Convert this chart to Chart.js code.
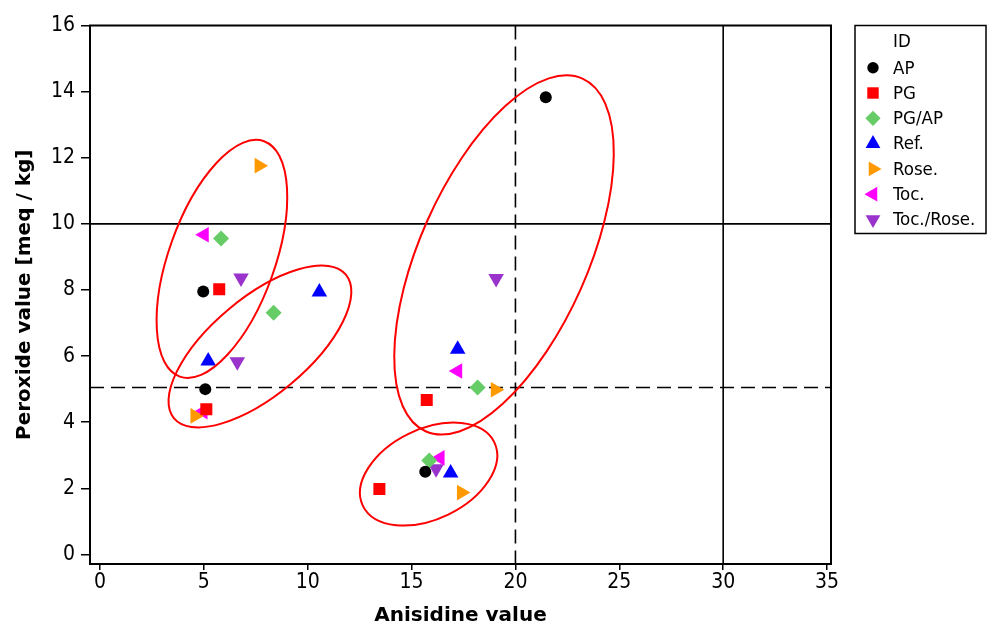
<!DOCTYPE html>
<html>
<head>
<meta charset="utf-8">
<script src="https://cdn.jsdelivr.net/npm/chart.js@4.4.1/dist/chart.umd.min.js"></script>
<style>
  html, body { margin: 0; padding: 0; background: #fff; }
  #wrap { width: 992px; height: 628px; }
</style>
</head>
<body>
<div id="wrap"><canvas id="chart"></canvas></div>
<script>
// series names (legend order)
const seriesNames = ['AP', 'PG', 'PG/AP', 'Ref.', 'Rose.', 'Toc.', 'Toc./Rose.'];

// anisidine value (x) and peroxide value (y) per series
const apX = [4.97, 5.07, 15.66, 21.46];
const apY = [7.95, 5.00, 2.50, 13.83];
const pgX = [5.74, 5.12, 13.45, 15.73];
const pgY = [8.02, 4.39, 1.98, 4.67];
const pgApX = [5.83, 8.36, 15.85, 18.18];
const pgApY = [9.56, 7.31, 2.84, 5.05];
const refX = [5.21, 10.56, 17.22, 16.88];
const refY = [5.85, 7.94, 6.21, 2.46];
const roseX = [7.66, 4.57, 17.40, 19.03];
const roseY = [11.76, 4.19, 1.87, 4.98];
const tocX = [5.02, 4.96, 17.22, 16.37];
const tocY = [9.67, 4.32, 5.55, 2.92];
const tocRoseX = [6.79, 6.61, 19.07, 16.18];
const tocRoseY = [8.36, 5.83, 8.35, 2.59];

// tick labels
const xTicks = [0, 5, 10, 15, 20, 25, 30, 35];
const yTicks = [0, 2, 4, 6, 8, 10, 12, 14, 16];

// reference lines
const hLines = [10, 5.05];
const vLines = [30, 20];

// group ellipses: centre in data units
const ellipseX = [5.87, 7.70, 19.45, 15.82];
const ellipseY = [8.94, 6.29, 9.06, 2.43];

const xs = [apX, pgX, pgApX, refX, roseX, tocX, tocRoseX];
const ys = [apY, pgY, pgApY, refY, roseY, tocY, tocRoseY];

// marker styles
const styles = [
  { color: '#000000', pointStyle: 'circle', rotation: 0, radius: 6 },
  { color: '#ff0000', pointStyle: 'rect', rotation: 0, radius: 8.5 },
  { color: '#66cc66', pointStyle: 'rectRot', rotation: 0, radius: 8 },
  { color: '#0000ff', pointStyle: 'triangle', rotation: 0, radius: 9 },
  { color: '#ff9900', pointStyle: 'triangle', rotation: 90, radius: 9 },
  { color: '#ff00ff', pointStyle: 'triangle', rotation: 270, radius: 9 },
  { color: '#9933cc', pointStyle: 'triangle', rotation: 180, radius: 9 }
];
// ellipse shape in pixels: semi axes and tilt (deg, clockwise from vertical)
const ellipseShape = [
  { a: 125, b: 53, tilt: 19.7 },
  { a: 112, b: 48.6, tilt: 50.1 },
  { a: 193, b: 84, tilt: 24 },
  { a: 73, b: 45, tilt: 64.2 }
];

const datasets = seriesNames.map((name, i) => ({
  label: name,
  data: xs[i].map((v, j) => ({ x: v, y: ys[i][j] })),
  backgroundColor: styles[i].color,
  borderColor: styles[i].color,
  borderWidth: 0,
  pointStyle: styles[i].pointStyle,
  rotation: styles[i].rotation,
  pointRadius: styles[i].radius,
  pointHoverRadius: styles[i].radius
}));

const FONT = '"DejaVu Sans Condensed", "DejaVu Sans", sans-serif';
const TITLE_FONT = '"DejaVu Sans", sans-serif';

const extrasPlugin = {
  id: 'extras',
  beforeDatasetsDraw(chart) {
    const { ctx, chartArea: a, scales: { x, y } } = chart;
    ctx.save();
    ctx.strokeStyle = '#000';
    ctx.lineWidth = 1.6;
    hLines.forEach((v, i) => {
      ctx.setLineDash(i === 1 ? [14, 7] : []);
      const py = y.getPixelForValue(v);
      ctx.beginPath(); ctx.moveTo(a.left, py); ctx.lineTo(a.right, py); ctx.stroke();
    });
    vLines.forEach((v, i) => {
      ctx.setLineDash(i === 1 ? [14, 7] : []);
      const px = x.getPixelForValue(v);
      ctx.beginPath(); ctx.moveTo(px, a.top); ctx.lineTo(px, a.bottom); ctx.stroke();
    });
    ctx.restore();
  },
  afterDatasetsDraw(chart) {
    const { ctx, scales: { x, y } } = chart;
    ctx.save();
    ctx.strokeStyle = '#ff0000';
    ctx.lineWidth = 2;
    ellipseX.forEach((ex, i) => {
      const s = ellipseShape[i];
      ctx.beginPath();
      ctx.ellipse(x.getPixelForValue(ex), y.getPixelForValue(ellipseY[i]), s.b, s.a, s.tilt * Math.PI / 180, 0, Math.PI * 2);
      ctx.stroke();
    });
    ctx.restore();
  },
  afterDraw(chart) {
    const { ctx, chartArea: a } = chart;
    ctx.save();
    // plot frame
    ctx.strokeStyle = '#000';
    ctx.lineWidth = 2;
    ctx.strokeRect(a.left, a.top, a.right - a.left, a.bottom - a.top);

    // legend box
    const lx = 855, ly = a.top, lw = 131, lh = 208;
    ctx.lineWidth = 1.5;
    ctx.strokeRect(lx, ly, lw, lh);
    ctx.font = '18.5px ' + FONT;
    ctx.fillStyle = '#000';
    ctx.textBaseline = 'middle';
    ctx.fillText('ID', 893, 42);
    seriesNames.forEach((name, i) => {
      const rowY = 67.7 + i * 25.3;
      const st = styles[i];
      ctx.fillStyle = st.color;
      Chart.helpers.drawPoint(ctx, {
        pointStyle: st.pointStyle, rotation: st.rotation,
        radius: st.radius * 0.95, borderWidth: 0
      }, 873, rowY);
      ctx.fillStyle = '#000';
      ctx.fillText(name, 893, rowY + 1);
    });
    ctx.restore();
  }
};

new Chart(document.getElementById('chart'), {
  type: 'scatter',
  data: { datasets },
  options: {
    responsive: true,
    maintainAspectRatio: false,
    animation: false,
    layout: { padding: { top: 25.5, right: 161, left: 0, bottom: 0 } },
    plugins: { legend: { display: false }, tooltip: { enabled: false } },
    scales: {
      x: {
        type: 'linear',
        min: -0.48,
        max: 35.19,
        afterFit: (s) => { s.height = 64; },
        afterBuildTicks: (s) => { s.ticks = xTicks.map(v => ({ value: v })); },
        grid: { drawOnChartArea: false, color: '#000', lineWidth: 1.5, tickLength: 6 },
        border: { color: '#000', width: 2 },
        ticks: { color: '#000', font: { family: FONT, size: 21 }, padding: 0, maxRotation: 0 },
        title: {
          display: true, text: 'Anisidine value', color: '#000',
          font: { family: TITLE_FONT, size: 20, weight: 'bold' }, padding: 0
        }
      },
      y: {
        type: 'linear',
        min: -0.29,
        max: 16,
        afterFit: (s) => { s.width = 90; },
        afterBuildTicks: (s) => { s.ticks = yTicks.map(v => ({ value: v })); },
        grid: { drawOnChartArea: false, color: '#000', lineWidth: 1.5, tickLength: 9 },
        border: { color: '#000', width: 2 },
        ticks: { color: '#000', font: { family: FONT, size: 21 }, padding: 6 },
        title: {
          display: true, text: 'Peroxide value [meq / kg]', color: '#000',
          font: { family: TITLE_FONT, size: 20, weight: 'bold' }, padding: { top: 13, bottom: 0 }
        }
      }
    }
  },
  plugins: [extrasPlugin]
});
</script>
</body>
</html>
